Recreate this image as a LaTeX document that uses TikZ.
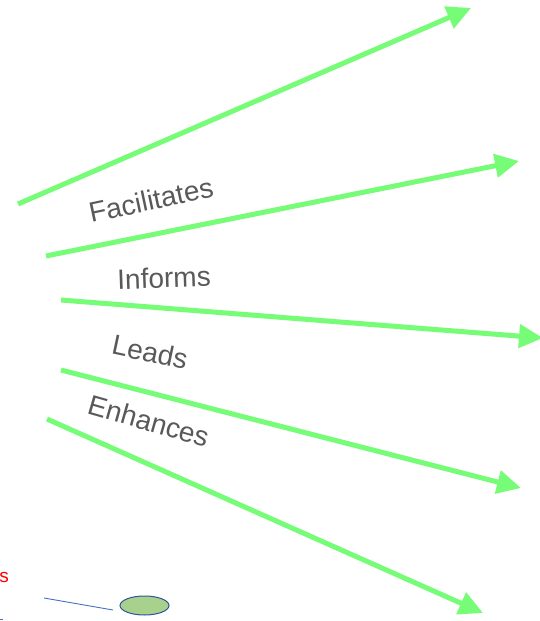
\documentclass[tikz,border=0pt]{standalone}
\usepackage{fontspec}
\setmainfont{Liberation Sans}
\usetikzlibrary{arrows.meta,shapes.geometric}
\definecolor{arrgreen}{RGB}{118,252,118}
\definecolor{lblgray}{RGB}{89,89,89}
\definecolor{lnblue}{RGB}{68,114,196}
\definecolor{ellfill}{RGB}{169,209,142}
\definecolor{ellstroke}{RGB}{47,85,151}
\begin{document}
\begin{tikzpicture}[x=1pt,y=-1pt,
  greenarrow/.style={draw=arrgreen, line width=5pt, -{Triangle[length=24pt,width=23pt]}},
  lbl/.style={text=lblgray, font=\fontsize{28}{31}\selectfont, inner sep=0pt},
  redlbl/.style={text=red, font=\fontsize{19}{21}\selectfont, inner sep=0pt},
  thinline/.style={draw=lnblue, line width=0.9pt},
  ellnode/.style={ellipse, draw=ellstroke, fill=ellfill, line width=1pt, minimum width=49pt, minimum height=19pt, inner sep=0pt}]
\useasboundingbox (0,0) rectangle (540,621);
% arrow end points
\coordinate (s1) at (18,204);  \coordinate (e1) at (471,8);
\coordinate (s2) at (46,256);  \coordinate (e2) at (519,161);
\coordinate (s3) at (61,300);  \coordinate (e3) at (543,338);
\coordinate (s4) at (61,370);  \coordinate (e4) at (521,488);
\coordinate (s5) at (47,419);  \coordinate (e5) at (483,613);
\draw[greenarrow] (s1) -- (e1);
\draw[greenarrow] (s2) -- (e2);
\draw[greenarrow] (s3) -- (e3);
\draw[greenarrow] (s4) -- (e4);
\draw[greenarrow] (s5) -- (e5);
% labels
\node[lbl, rotate=12] (l1) at (151,200) {Facilitates};
\node[lbl, rotate=2] (l2) at (164,278) {Informs};
\node[lbl, rotate=-12] (l3) at (150,352) {Leads};
\node[lbl, rotate=-16] (l4) at (149,421) {Enhances};
% bottom left items
\node[redlbl] (rs) at (4,577) {s};
\node[ellnode] (el) at (144.5,605.5) {};
\coordinate (b1) at (44,598);
\coordinate (b2) at (113,610);
\draw[thinline] (b1) -- (b2);
\coordinate (c1) at (0,619.5);
\coordinate (c2) at (3,619.5);
\draw[thinline] (c1) -- (c2);
\end{tikzpicture}
\end{document}
